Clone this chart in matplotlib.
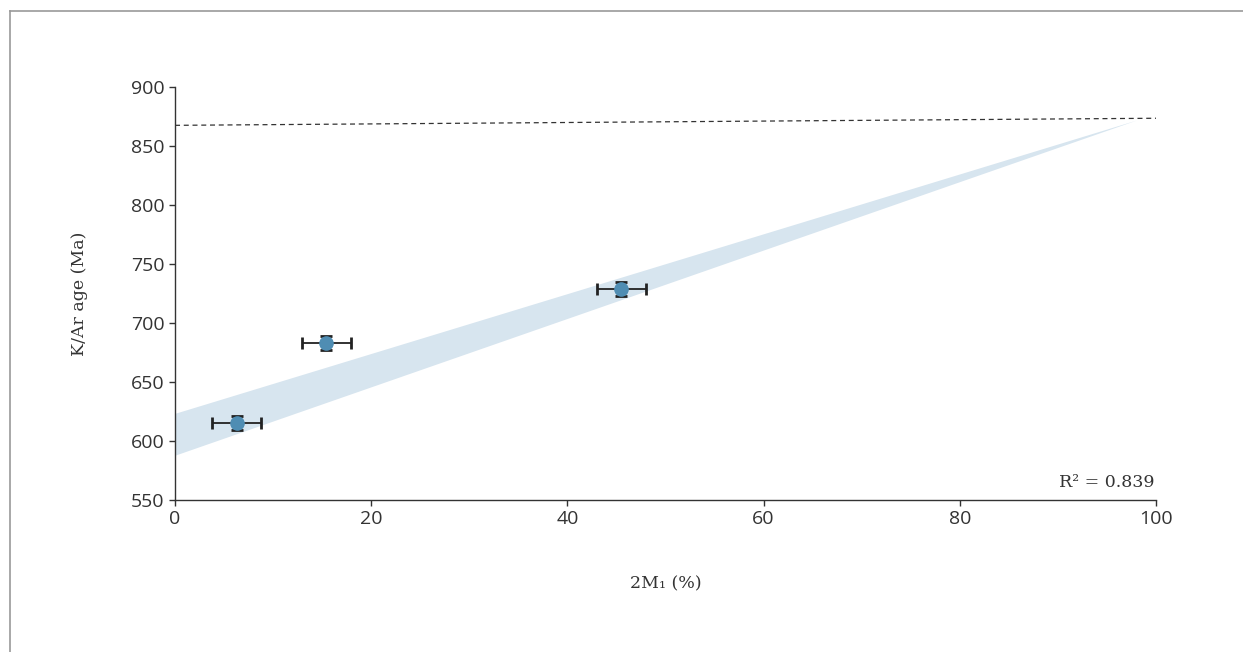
import numpy as np
import matplotlib.pyplot as plt
from matplotlib.lines import Line2D

# measured samples
mica_2m1 = [6.3, 15.4, 45.5]
age_ma = [615, 683, 729]
xerr = [2.5, 2.5, 2.5]
yerr = [6, 6, 6]

# confidence band of the fit, edges at x = 0 and at the apex
band_x = [0, 98]
band_upper = [623.5, 872]
band_lower = [588, 872]

# end-member age line
ref_x = [0, 100]
ref_y = [867.5, 873.5]

r2 = 0.839

fig = plt.figure(figsize=(12.43, 6.52), dpi=100)
ax = fig.add_axes([0.1408, 0.2331, 0.7892, 0.6335])

ax.fill_between(band_x, band_lower, band_upper, color="#d7e5ef", linewidth=0, zorder=1)
ax.plot(ref_x, ref_y, ls=(0, (4, 3)), color="#333333", lw=0.9, zorder=2)
ax.errorbar(mica_2m1, age_ma, xerr=xerr, yerr=yerr, fmt="o", ms=9.5,
            mfc="#4f8db3", mec="#4f8db3", ecolor="#222222", elinewidth=1.3,
            capsize=4.5, capthick=2.0, zorder=3)

ax.set_xlim(0, 100)
ax.set_ylim(550, 900)
ax.set_xticks(range(0, 101, 20))
ax.set_yticks(range(550, 901, 50))
for s in ["top", "right"]:
    ax.spines[s].set_visible(False)
for s in ["left", "bottom"]:
    ax.spines[s].set_color("#333333")
    ax.spines[s].set_linewidth(1.0)
ax.tick_params(axis="both", labelsize=14, colors="#333333", length=4, width=1.0)
for lab in ax.get_xticklabels() + ax.get_yticklabels():
    lab.set_family("Open Sans")

ax.set_ylabel("K/Ar age (Ma)", family="DejaVu Serif", fontsize=12.5, color="#333333", labelpad=31)
ax.set_xlabel("2M\u2081 (%)", family="DejaVu Serif", fontsize=12.5, color="#333333", labelpad=34)
ax.text(0.998, 0.022, f"R\u00b2 = {r2:.3f}", transform=ax.transAxes,
        ha="right", va="bottom", family="DejaVu Serif", fontsize=12.5, color="#333333")

# outer frame
W, H = 1243, 652
fig.add_artist(Line2D([10 / W, 1], [1 - 11 / H, 1 - 11 / H], color="#999999", lw=1.2,
                      transform=fig.transFigure))
fig.add_artist(Line2D([10 / W, 10 / W], [0, 1 - 11 / H], color="#999999", lw=1.2,
                      transform=fig.transFigure))

fig.savefig("out.png", dpi=100)
